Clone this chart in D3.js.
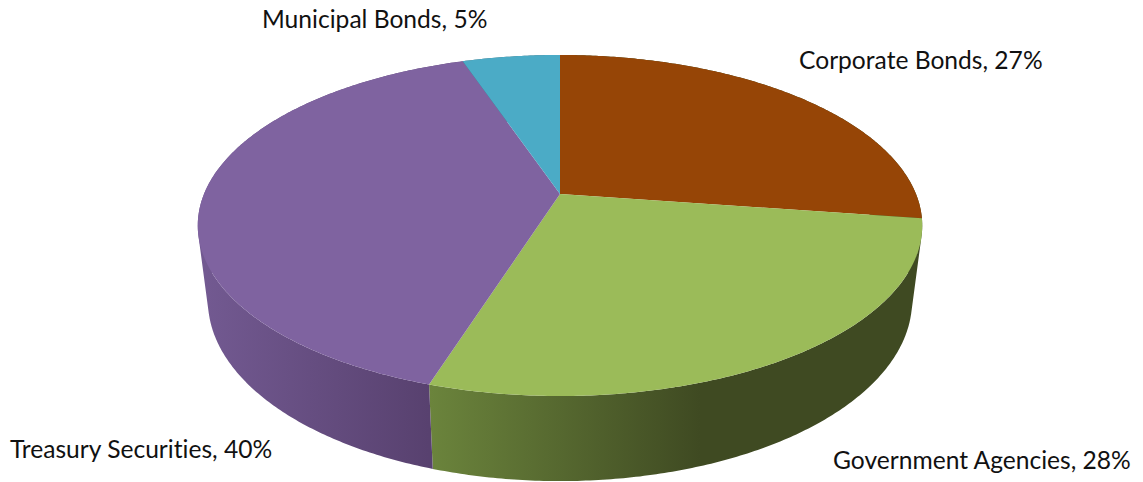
<!DOCTYPE html>
<html>
<head>
<meta charset="utf-8">
<script src="https://cdn.jsdelivr.net/npm/d3@7"></script>
<style>
  html, body { margin: 0; padding: 0; background: #fff; }
  svg { display: block; }
  text { font-family: Lato, "Open Sans", sans-serif; font-size: 24.6px; fill: #111; font-variant-ligatures: none; }
</style>
</head>
<body>
<svg id="chart" width="1143" height="482"></svg>
<script>
const categories = ["Corporate Bonds", "Government Agencies", "Treasury Securities", "Municipal Bonds"];
const shares = [27.3, 27.6, 39.9, 5.2];
const topColors = ["#964506", "#9bbb59", "#7f63a0", "#4babc6"];

// side wall shading, left colour then right colour
const sideColors = [["#3f4a22", "#3f4a22"], ["#6b843c", "#3f4a22"], ["#735a92", "#58416f"], ["#3f6f7c", "#3f6f7c"]];

// label baseline-left positions, in pixels
const labelX = [799, 833, 10, 262];
const labelY = [69, 469, 458, 28];

const width = 1143, height = 482;
const center = {x: 560, y: 194};

// perspective of the tilted disc
const persp = 0.1847, xRadius = 356, yRadius = 164.7;
// lower rim: the top ellipse (mid y 225) moved down and reshaped a little
const rimMidTop = 225, rimMidLow = 300, rimScaleX = 0.972, rimScaleY = 1.059;

const svg = d3.select("#chart");
const defs = svg.append("defs");

const x = d3.scaleLinear().domain([-1, 1]).range([center.x - xRadius, center.x + xRadius]);
const y = d3.scaleLinear().domain([-1, 1]).range([center.y - yRadius, center.y + yRadius]);

// angle runs clockwise from 12 o'clock, r is 0..1
function project(angle, r) {
    const u = r * Math.sin(angle), v = -r * Math.cos(angle);
    const w = 1 - persp * v;
    return [x(u / w), y(v / w)];
}

function lower(p) {
    return [center.x + (p[0] - center.x) * rimScaleX, rimMidLow + (p[1] - rimMidTop) * rimScaleY];
}

function arcPoints(a0, a1) {
    const n = Math.max(2, Math.ceil((a1 - a0) / 0.01));
    return d3.range(n + 1).map(i => project(a0 + (a1 - a0) * i / n, 1));
}

const line = d3.line();

const pie = d3.pie().sort(null).value(d => d.share);
const slices = pie(categories.map((name, i) => ({name, share: shares[i], i})));

// side walls first so the top face covers the hidden part
const sides = svg.append("g").attr("class", "sides");
slices.forEach(s => {
    const i = s.data.i;
    const rim = arcPoints(s.startAngle, s.endAngle);
    const front = rim.filter(p => p[1] > rimMidTop);
    const gx = d3.extent(front.length ? front : rim, p => p[0]);

    const grad = defs.append("linearGradient")
        .attr("id", `side-${i}`)
        .attr("gradientUnits", "userSpaceOnUse")
        .attr("x1", i === 1 ? 430 : gx[0])
        .attr("x2", i === 1 ? 700 : gx[1])
        .attr("y1", 0).attr("y2", 0);
    grad.append("stop").attr("offset", 0).attr("stop-color", sideColors[i][0]);
    grad.append("stop").attr("offset", 1).attr("stop-color", sideColors[i][1]);

    // one quad per rim step, wound the same way so overlaps don't cancel under nonzero fill
    const quads = d3.pairs(rim).map(([a, b]) => {
        const q = [a, b, lower(b), lower(a)];
        return line(d3.polygonArea(q) < 0 ? q.reverse() : q) + "Z";
    }).join("");
    sides.append("path")
        .attr("fill", `url(#side-${i})`)
        .attr("d", quads);
});

const faces = svg.append("g").attr("class", "faces");
slices.forEach(s => {
    const pts = [project(0, 0)].concat(arcPoints(s.startAngle, s.endAngle));
    faces.append("path")
        .attr("fill", topColors[s.data.i])
        .attr("d", line(pts) + "Z");
});

svg.append("g").attr("class", "labels")
    .selectAll("text")
    .data(slices)
    .join("text")
    .attr("x", d => labelX[d.data.i])
    .attr("y", d => labelY[d.data.i])
    .text(d => `${d.data.name}, ${Math.round(d.data.share)}%`);
</script>
</body>
</html>
